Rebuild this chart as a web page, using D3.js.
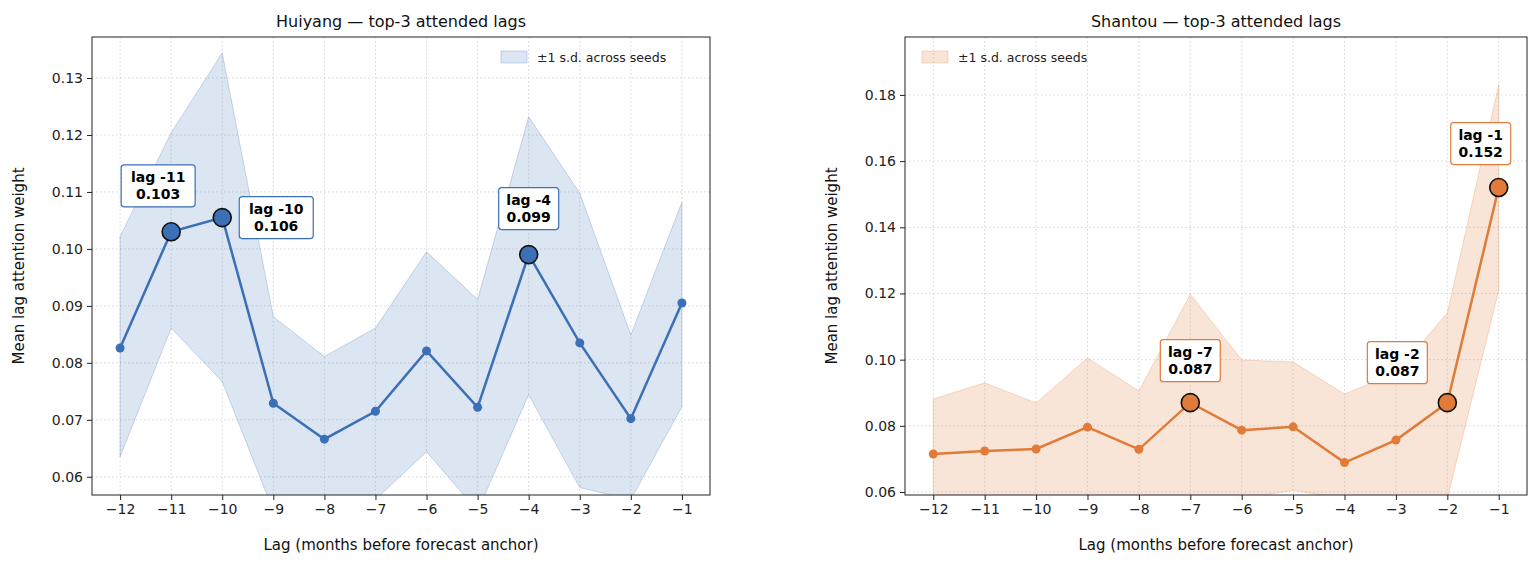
<!DOCTYPE html>
<html><head><meta charset="utf-8">
<script src="https://cdn.jsdelivr.net/npm/d3@7"></script>
<style>body{margin:0;background:#fff;font-family:"DejaVu Sans",sans-serif}</style>
</head><body><svg id="c" width="1539" height="564"></svg>
<script>
const lags = [-12,-11,-10,-9,-8,-7,-6,-5,-4,-3,-2,-1];
const hyMean = [0.0826,0.103,0.1055,0.0729,0.0666,0.0715,0.0821,0.0722,0.099,0.0835,0.0702,0.0905];
const hyUpper = [0.1022,0.1204,0.1344,0.0881,0.0811,0.0861,0.0995,0.0911,0.1232,0.1098,0.0849,0.1082];
const hyLower = [0.0635,0.0861,0.0767,0.054,0.050,0.056,0.0644,0.054,0.0744,0.0581,0.056,0.0723];
const stMean = [0.0715,0.0724,0.073,0.0796,0.0729,0.087,0.0787,0.0797,0.0689,0.0757,0.087,0.152];
const stUpper = [0.0881,0.093,0.0869,0.1005,0.0905,0.1198,0.0999,0.0993,0.0896,0.096,0.1141,0.183];
const stLower = [0.055,0.056,0.055,0.058,0.055,0.054,0.058,0.0605,0.058,0.056,0.058,0.1209];
const hyTop = [[-11,"0.103",-13,-46],[-10,"0.106",54,0],[-4,"0.099",0,-46]];
const stTop = [[-7,"0.087",0,-42],[-2,"0.087",-50,-40],[-1,"0.152",-18,-44]];

const svg = d3.select("#c");

function panel(o) {
  const g = svg.append("g");
  const x = d3.scaleLinear().domain([-12.55,-0.45]).range([o.x0,o.x1]);
  const y = d3.scaleLinear().domain(o.yd).range([495,37]);
  const clip = "clip" + o.id;
  g.append("clipPath").attr("id", clip).append("rect")
    .attr("x", o.x0).attr("y", 37).attr("width", o.x1-o.x0).attr("height", 458);
  // grid
  g.selectAll(".gx").data(lags).join("line")
    .attr("x1", d=>x(d)).attr("x2", d=>x(d)).attr("y1",37).attr("y2",495)
    .attr("stroke","#ccc").attr("stroke-width",0.8).attr("stroke-dasharray","1.5,2.5");
  g.selectAll(".gy").data(o.yt).join("line")
    .attr("x1", o.x0).attr("x2", o.x1).attr("y1", d=>y(d)).attr("y2", d=>y(d))
    .attr("stroke","#ccc").attr("stroke-width",0.8).attr("stroke-dasharray","1.5,2.5");
  const pg = g.append("g").attr("clip-path", `url(#${clip})`);
  pg.append("path").datum(lags.map((l,i)=>[l,o.lo[i],o.hi[i]]))
    .attr("d", d3.area().x(d=>x(d[0])).y0(d=>y(d[1])).y1(d=>y(d[2])))
    .attr("fill", o.band).attr("stroke", o.bandStroke).attr("stroke-width",1);
  pg.append("path").datum(lags.map((l,i)=>[l,o.mean[i]]))
    .attr("d", d3.line().x(d=>x(d[0])).y(d=>y(d[1])))
    .attr("fill","none").attr("stroke",o.col).attr("stroke-width",2.5);
  pg.selectAll(".pt").data(lags.map((l,i)=>[l,o.mean[i]])).join("circle")
    .attr("cx", d=>x(d[0])).attr("cy", d=>y(d[1])).attr("r",4.5).attr("fill",o.col);
  const top = o.top.map(t=>({l:t[0], v:o.mean[lags.indexOf(t[0])], s:t[1], dx:t[2], dy:t[3]}));
  g.selectAll(".big").data(top).join("circle")
    .attr("cx", d=>x(d.l)).attr("cy", d=>y(d.v)).attr("r",9)
    .attr("fill",o.col).attr("stroke","#111").attr("stroke-width",1.6);
  top.forEach(d=>{
    const cx = x(d.l)+d.dx, cy = y(d.v)+d.dy;
    const w = d.l <= -10 ? 74 : 60;
    g.append("rect").attr("x",cx-w/2).attr("y",cy-21).attr("width",w).attr("height",42).attr("rx",3)
      .attr("fill","#fff").attr("stroke",o.col).attr("stroke-width",1.2);
    const t = g.append("text").attr("text-anchor","middle").attr("font-weight","bold").attr("font-size",14).attr("fill","#000");
    t.append("tspan").attr("x",cx).attr("y",cy-4).text(`lag ${d.l}`);
    t.append("tspan").attr("x",cx).attr("y",cy+13).text(d.s);
  });
  // frame & axes
  g.append("rect").attr("x",o.x0).attr("y",37).attr("width",o.x1-o.x0).attr("height",458)
    .attr("fill","none").attr("stroke","#222").attr("stroke-width",1);
  const ax = g.append("g").attr("transform","translate(0,495)")
    .call(d3.axisBottom(x).tickValues(lags).tickFormat(d=>d<0?"\u2212"+(-d):d).tickSize(5).tickPadding(4));
  const ay = g.append("g").attr("transform",`translate(${o.x0},0)`)
    .call(d3.axisLeft(y).tickValues(o.yt).tickFormat(d3.format(o.fmt)).tickSize(5).tickPadding(4));
  [ax,ay].forEach(a=>{a.select(".domain").remove();
    a.selectAll("text").attr("font-size",14).attr("font-family","DejaVu Sans").attr("fill","#222");
    a.selectAll("line").attr("stroke","#222");});
  g.append("text").attr("x",(o.x0+o.x1)/2).attr("y",27).attr("text-anchor","middle")
    .attr("font-size",16).attr("fill","#111").text(o.title);
  g.append("text").attr("x",(o.x0+o.x1)/2).attr("y",550).attr("text-anchor","middle")
    .attr("font-size",15).attr("fill","#111").text("Lag (months before forecast anchor)");
  g.append("text").attr("transform",`translate(${o.x0-68},266) rotate(-90)`).attr("text-anchor","middle")
    .attr("font-size",15).attr("fill","#111").text("Mean lag attention weight");
  // legend
  const lx = o.legX;
  g.append("rect").attr("x",lx).attr("y",51).attr("width",26).attr("height",12)
    .attr("fill",o.band).attr("stroke",o.bandStroke);
  g.append("text").attr("x",lx+36).attr("y",62).attr("font-size",12.5).attr("fill","#222").text("\u00b11 s.d. across seeds");
}

panel({id:"a", x0:92, x1:710, yd:[0.0568,0.1372], yt:[0.06,0.07,0.08,0.09,0.10,0.11,0.12,0.13], fmt:".2f",
  mean:hyMean, hi:hyUpper, lo:hyLower, col:"#3b6fb6", band:"rgba(59,111,182,0.18)", bandStroke:"rgba(59,111,182,0.25)",
  top:hyTop, title:"Huiyang \u2014 top-3 attended lags", legX:501});
panel({id:"b", x0:905, x1:1527, yd:[0.0591,0.1975], yt:[0.06,0.08,0.10,0.12,0.14,0.16,0.18], fmt:".2f",
  mean:stMean, hi:stUpper, lo:stLower, col:"#e07b39", band:"rgba(224,123,57,0.2)", bandStroke:"rgba(224,123,57,0.25)",
  top:stTop, title:"Shantou \u2014 top-3 attended lags", legX:922});
</script></body></html>
